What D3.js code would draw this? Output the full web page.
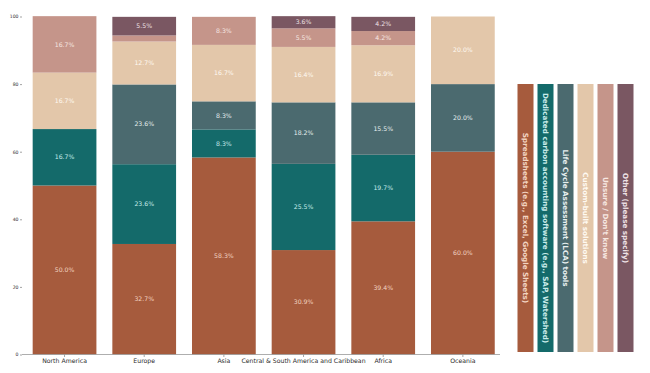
<!DOCTYPE html>
<html>
<head>
<meta charset="utf-8">
<script src="https://cdn.jsdelivr.net/npm/d3@7"></script>
<style>
  body { margin: 0; background: #fff; }
  svg { display: block; font-family: "DejaVu Sans", sans-serif; }
</style>
</head>
<body>
<svg id="chart" width="650" height="373"></svg>
<script>
// regions along the x axis
const regions = ["North America", "Europe", "Asia", "Central & South America and Caribbean", "Africa", "Oceania"];

// tool categories, bottom to top
const tools = [
  "Spreadsheets (e.g., Excel, Google Sheets)",
  "Dedicated carbon accounting software (e.g., SAP, Watershed)",
  "Life Cycle Assessment (LCA) tools",
  "Custom-built solutions",
  "Unsure / Don't know",
  "Other (please specify)"
];

// share (%) per region, one array per tool
const spreadsheets = [50.0, 32.7, 58.3, 30.9, 39.4, 60.0];
const dedicated    = [16.7, 23.6, 8.3, 25.5, 19.7, 0];
const lca          = [0, 23.6, 8.3, 18.2, 15.5, 20.0];
const custom       = [16.7, 12.7, 16.7, 16.4, 16.9, 20.0];
const unsure       = [16.7, 1.8, 8.3, 5.5, 4.2, 0];
const other        = [0, 5.5, 0, 3.6, 4.2, 0];

const yTicks = [0, 20, 40, 60, 80, 100];

const colors    = ["#a65b3d", "#146a6a", "#4b6a6f", "#e3c7aa", "#c5958a", "#7a5762"];
const textColor = ["#f3d5c2", "#c9ecea", "#e8f0f0", "#fffaf2", "#f7e8e2", "#efe2e6"];

const series = [spreadsheets, dedicated, lca, custom, unsure, other];

const rows = regions.map(function(r, i) {
  const o = {region: r};
  tools.forEach(function(t, k) { o[t] = series[k][i]; });
  return o;
});

const stacked = d3.stack().keys(tools)(rows);

const svg = d3.select("#chart");

const x = d3.scaleBand()
  .domain(regions)
  .range([22, 500])
  .paddingInner(0.2)
  .paddingOuter(0.1)
  .align(0.67);

const y = d3.scaleLinear().domain([0, 100]).range([354.5, 16.5]);

// bars
const layer = svg.append("g").selectAll("g")
  .data(stacked)
  .enter().append("g")
  .attr("fill", function(d, k) { return colors[k]; });

layer.selectAll("rect")
  .data(function(d) { return d; })
  .enter().append("rect")
  .attr("x", function(d) { return x(d.data.region); })
  .attr("width", x.bandwidth())
  .attr("y", function(d) { return y(d[1]); })
  .attr("height", function(d) { return y(d[0]) - y(d[1]); });

// percentage labels
stacked.forEach(function(s, k) {
  svg.append("g").selectAll("text")
    .data(s.filter(function(d) { return d[1] - d[0] >= 3; }))
    .enter().append("text")
    .attr("x", function(d) { return x(d.data.region) + x.bandwidth() / 2; })
    .attr("y", function(d) { return y((d[0] + d[1]) / 2); })
    .attr("dy", "0.35em")
    .attr("text-anchor", "middle")
    .attr("font-size", 6.2)
    .attr("fill", textColor[k])
    .text(function(d) { return (d[1] - d[0]).toFixed(1) + "%"; });
});

// x axis
const xAxis = svg.append("g")
  .attr("transform", "translate(0," + y(0) + ")")
  .call(d3.axisBottom(x).tickSize(2.5).tickPadding(2));
xAxis.select(".domain").remove();
xAxis.selectAll("line").attr("stroke", "#666").attr("stroke-width", 0.6);
xAxis.selectAll("text")
  .attr("font-size", 6.2)
  .attr("fill", "#2b2b2b")
  .attr("font-family", "DejaVu Sans");
svg.append("line")
  .attr("x1", 22).attr("x2", 500)
  .attr("y1", y(0)).attr("y2", y(0))
  .attr("stroke", "#999").attr("stroke-width", 0.8);

// y axis (ticks only)
const yAxis = svg.append("g")
  .attr("transform", "translate(22,0)")
  .call(d3.axisLeft(y).tickValues(yTicks).tickSize(2).tickPadding(1.5));
yAxis.select(".domain").remove();
yAxis.selectAll("line").attr("stroke", "#666").attr("stroke-width", 0.6);
yAxis.selectAll("text").attr("font-size", 4.6).attr("fill", "#333").attr("font-family", "DejaVu Sans");

// legend: vertical boxes with rotated text
const legend = svg.append("g").selectAll("g")
  .data(tools)
  .enter().append("g")
  .attr("transform", function(d, k) { return "translate(" + (517.5 + k * 20) + ",84)"; });

legend.append("rect")
  .attr("width", 16)
  .attr("height", 268)
  .attr("fill", function(d, k) { return colors[k]; });

legend.append("text")
  .attr("transform", "translate(8,134) rotate(90)")
  .attr("text-anchor", "middle")
  .attr("dy", "0.35em")
  .attr("font-size", 7.2)
  .attr("font-weight", "bold")
  .attr("fill", function(d, k) { return textColor[k]; })
  .text(function(d) { return d; });
</script>
</body>
</html>
